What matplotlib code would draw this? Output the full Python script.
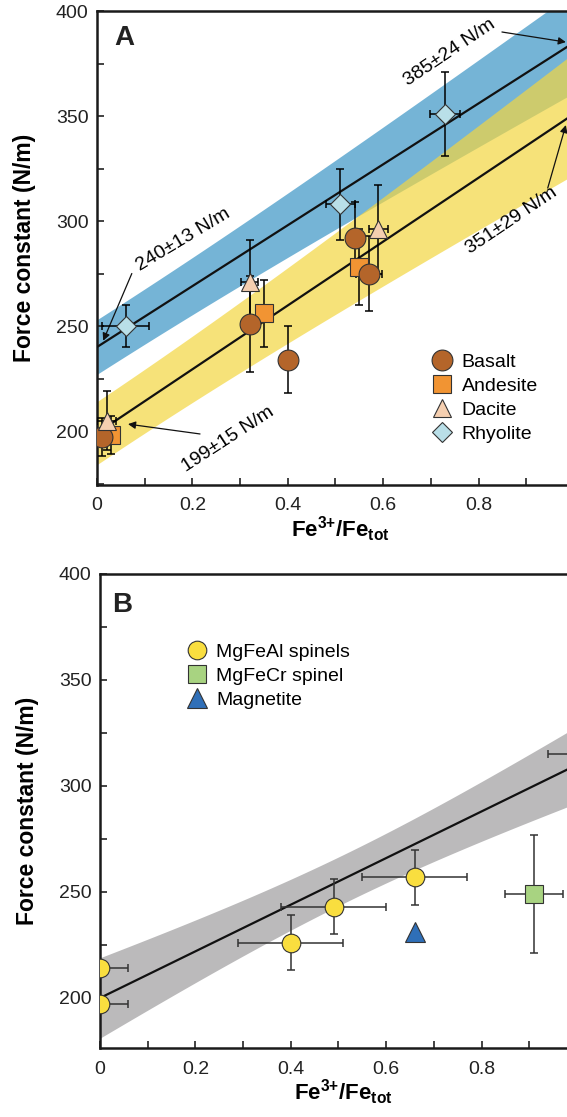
import numpy as np
import matplotlib.pyplot as plt
from matplotlib.lines import Line2D
from matplotlib.ticker import MultipleLocator, FuncFormatter

plt.rcParams['font.family'] = ['Liberation Sans', 'DejaVu Sans']
plt.rcParams['mathtext.fontset'] = 'custom'
plt.rcParams['mathtext.rm'] = 'Liberation Sans'
plt.rcParams['mathtext.bf'] = 'Liberation Sans:bold'

# ---- panel A: glasses ----
basalt_x = [0.01, 0.32, 0.40, 0.54, 0.57]
basalt_y = [197, 251, 234, 292, 275]
basalt_xerr = [0, 0, 0, 0, 0.027]
basalt_yerr = [9, 23, 16, 17, 18]

andesite_x = [0.03, 0.35, 0.55]
andesite_y = [198, 256, 278]
andesite_xerr = [0.015, 0, 0]
andesite_yerr = [9, 16, 18]

dacite_x = [0.02, 0.32, 0.59]
dacite_y = [205, 271, 296]
dacite_xerr = [0.02, 0.018, 0.02]
dacite_yerr = [14, 20, 21]

rhyolite_x = [0.06, 0.51, 0.73]
rhyolite_y = [250, 308, 351]
rhyolite_xerr = [0.049, 0.03, 0.031]
rhyolite_yerr = [10, 17, 20]

# fits: value at Fe3+/Fetot = 0 and = 1, with their errors
rhy_fit = [240, 385]
rhy_fit_err = [13, 24]
maf_fit = [199, 351]
maf_fit_err = [15, 29]

# ---- panel B: spinels ----
mgfeal_x = [0.0, 0.0, 0.40, 0.49, 0.66, 1.0]
mgfeal_y = [214, 197, 226, 243, 257, 315]
mgfeal_xerr = [0.058, 0.058, 0.11, 0.11, 0.11, 0.06]
mgfeal_yerr = [0, 0, 13, 13, 13, 0]

mgfecr_x = [0.91]
mgfecr_y = [249]
mgfecr_xerr = [0.06]
mgfecr_yerr = [28]

magnetite_x = [0.66]
magnetite_y = [231]

spinel_fit = [200, 310]
spinel_band_min = 11.5   # narrowest half width
spinel_band_center = 0.52
spinel_band_spread = 29

fig = plt.figure(figsize=(5.67, 11.17), dpi=100)
axA = fig.add_axes([97 / 567, 632 / 1117, 486.5 / 567, 474 / 1117])
axB = fig.add_axes([100 / 567, 69 / 1117, 486.5 / 567, 474 / 1117])

xs = np.linspace(0, 1.05, 200)


def style_axes(ax, ymin):
    ax.set_xlim(0, 1.02)
    ax.set_ylim(ymin, 400)
    ax.xaxis.set_major_locator(MultipleLocator(0.2))
    ax.xaxis.set_minor_locator(MultipleLocator(0.1))
    ax.yaxis.set_major_locator(MultipleLocator(50))
    ax.yaxis.set_minor_locator(MultipleLocator(25))
    ax.xaxis.set_major_formatter(FuncFormatter(lambda v, p: f'{v:g}'))
    ax.tick_params(which='both', direction='in', length=5, width=1.2,
                   top=False, right=False, labelsize=14, colors='#222222')
    ax.tick_params(axis='x', pad=9)
    ax.tick_params(axis='y', pad=6)
    for s in ax.spines.values():
        s.set_linewidth(1.8)
        s.set_color('#1a1a1a')
    ax.set_ylabel('Force constant (N/m)', fontsize=16.5, fontweight='bold', labelpad=14)
    ax.set_xlabel(r'$\mathbf{Fe^{3{+}}/Fe_{tot}}$', fontsize=16, labelpad=0)


def draw(ax, x, y, xerr, yerr, marker, color, ms, ecolor='black'):
    ax.errorbar(x, y, xerr=xerr, yerr=yerr, fmt='none', ecolor=ecolor,
                elinewidth=1.1, capsize=3, capthick=1.1, zorder=4)
    ax.plot(x, y, linestyle='none', marker=marker, ms=ms, mfc=color,
            mec='#333333', mew=0.8, zorder=5)


# panel A bands and lines
for fit, err, col, alpha in [(rhy_fit, rhy_fit_err, '#75b4d6', 1.0),
                             (maf_fit, maf_fit_err, '#f3d641', 0.7)]:
    line = fit[0] + (fit[1] - fit[0]) * xs
    half = np.sqrt(err[0] ** 2 + (err[1] ** 2 - err[0] ** 2) * xs ** 2)
    axA.fill_between(xs, line - half, line + half, color=col, alpha=alpha, lw=0, zorder=1)
for fit in [rhy_fit, maf_fit]:
    axA.plot(xs, fit[0] + (fit[1] - fit[0]) * xs, color='#111111', lw=1.6, zorder=3)

draw(axA, andesite_x, andesite_y, andesite_xerr, andesite_yerr, 's', '#f19433', 13)
draw(axA, basalt_x, basalt_y, basalt_xerr, basalt_yerr, 'o', '#b4652a', 15)
draw(axA, dacite_x, dacite_y, dacite_xerr, dacite_yerr, '^', '#f5cfb0', 13.5)
draw(axA, rhyolite_x, rhyolite_y, rhyolite_xerr, rhyolite_yerr, 'D', '#b9dfe8', 9.8)

arrow = dict(arrowstyle='-|>', lw=0.9, color='#111111', mutation_scale=11,
             shrinkA=0, shrinkB=0)
axA.annotate(f'{rhy_fit[0]}±{rhy_fit_err[0]} N/m', xy=(0.013, 243), xytext=(0.18, 291),
             fontsize=14, rotation=31, ha='center', va='center', rotation_mode='anchor')
axA.annotate('', xy=(0.013, 243), xytext=(0.073, 275), arrowprops=arrow)
axA.annotate(f'{maf_fit[0]}±{maf_fit_err[0]} N/m', xy=(0.065, 203), xytext=(0.275, 196),
             fontsize=14, rotation=33, ha='center', va='center', rotation_mode='anchor')
axA.annotate('', xy=(0.065, 203.3), xytext=(0.216, 198.6), arrowprops=arrow)
axA.annotate(f'{rhy_fit[1]}±{rhy_fit_err[1]} N/m', xy=(0.98, 385), xytext=(0.74, 380),
             fontsize=14, rotation=34, ha='center', va='center', rotation_mode='anchor')
axA.annotate('', xy=(0.983, 385.2), xytext=(0.849, 390), arrowprops=arrow)
axA.annotate(f'{maf_fit[1]}±{maf_fit_err[1]} N/m', xy=(0.98, 346), xytext=(0.868, 300),
             fontsize=14, rotation=34, ha='center', va='center', rotation_mode='anchor')
axA.annotate('', xy=(0.983, 345.7), xytext=(0.945, 315.7), arrowprops=arrow)

handlesA = [Line2D([], [], ls='none', marker='o', ms=15, mfc='#b4652a', mec='#333333', mew=0.8),
            Line2D([], [], ls='none', marker='s', ms=13, mfc='#f19433', mec='#333333', mew=0.8),
            Line2D([], [], ls='none', marker='^', ms=13.5, mfc='#f5cfb0', mec='#333333', mew=0.8),
            Line2D([], [], ls='none', marker='D', ms=9.8, mfc='#b9dfe8', mec='#333333', mew=0.8)]
axA.legend(handlesA, ['Basalt', 'Andesite', 'Dacite', 'Rhyolite'], loc='center left',
           bbox_to_anchor=(0.670, 0.1835), frameon=False, fontsize=14, borderpad=0,
           handlelength=1.0, handletextpad=0.5, labelspacing=0.32)

axA.text(0.0555, 0.943, 'A', transform=axA.transAxes, fontsize=20, fontweight='bold',
         ha='center', va='center', color='#222222')
style_axes(axA, 174.3)

# panel B band and line
lineB = spinel_fit[0] + (spinel_fit[1] - spinel_fit[0]) * xs
halfB = np.sqrt(spinel_band_min ** 2 + spinel_band_spread ** 2 * (xs - spinel_band_center) ** 2)
axB.fill_between(xs, lineB - halfB, lineB + halfB, color='#bbbabb', lw=0, zorder=1)
axB.plot(xs, lineB, color='#111111', lw=1.6, zorder=3)

draw(axB, mgfeal_x, mgfeal_y, mgfeal_xerr, mgfeal_yerr, 'o', '#f9de3f', 13.4, '#333333')
draw(axB, mgfecr_x, mgfecr_y, mgfecr_xerr, mgfecr_yerr, 's', '#a8d381', 13.4, '#333333')
axB.plot(magnetite_x, magnetite_y, ls='none', marker='^', ms=13.7, mfc='#2f6fb8',
         mec='#333333', mew=0.8, zorder=5)

handlesB = [Line2D([], [], ls='none', marker='o', ms=13.4, mfc='#f9de3f', mec='#333333', mew=0.8),
            Line2D([], [], ls='none', marker='s', ms=13.4, mfc='#a8d381', mec='#333333', mew=0.8),
            Line2D([], [], ls='none', marker='^', ms=13.7, mfc='#2f6fb8', mec='#333333', mew=0.8)]
axB.legend(handlesB, ['MgFeAl spinels', 'MgFeCr spinel', 'Magnetite'], loc='center left',
           bbox_to_anchor=(0.1585, 0.785), frameon=False, fontsize=14, borderpad=0,
           handlelength=1.0, handletextpad=0.5, labelspacing=0.32)

axB.text(0.045, 0.935, 'B', transform=axB.transAxes, fontsize=20, fontweight='bold',
         ha='center', va='center', color='#222222')
style_axes(axB, 176.4)

plt.savefig('out.png', dpi=100)
